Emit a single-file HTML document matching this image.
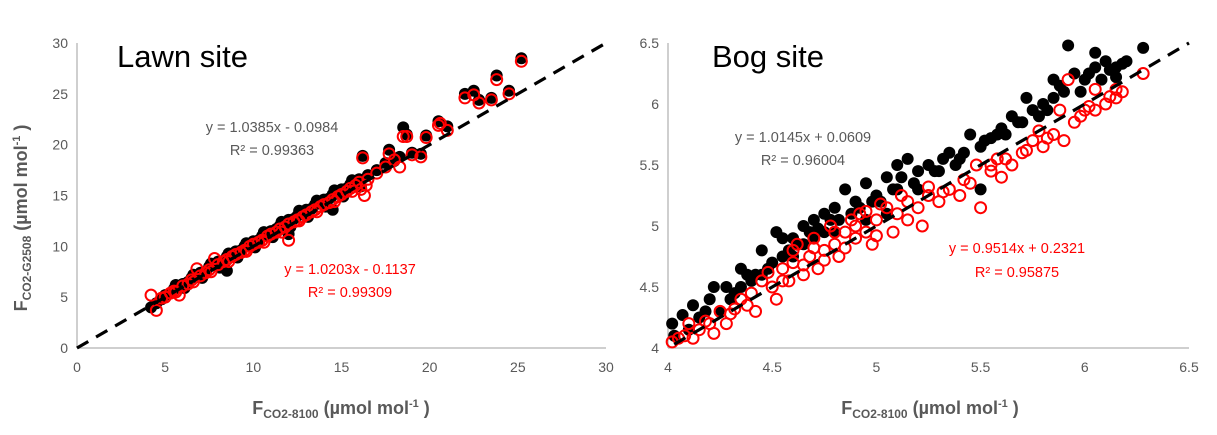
<!DOCTYPE html>
<html><head><meta charset="utf-8"><style>
body{margin:0;background:#fff;}
svg{display:block;font-family:"Liberation Sans",sans-serif;}
</style></head><body>
<svg id="c" width="1217" height="435" viewBox="0 0 1217 435"></svg>
<script>
// Lawn site data
const lawnBlackX=[4.2,4.5,4.8,5,5.3,5.5,5.8,6,6.3,6.5,6.8,7,7.3,7.5,7.8,8,8.3,8.5,8.8,9,9.3,9.5,9.8,10,10.3,10.5,10.8,11,11.3,11.5,11.8,12,12.3,12.5,12.8,13,13.3,13.5,13.8,14,14.3,14.5,14.8,15,15.3,15.5,15.8,16,16.2,16.5,17,17.5,17.7,18,18.3,18.5,18.7,19,19.5,19.8,20.5,21,22,22.5,22.8,23.5,23.8,24.5,25.2,8.5,12,14.5,5.6,6.6,7.6,8.6,9.6,10.6,11.6,12.6,13.6,14.6,15.6,6.1,7.1,8.1,9.1,10.1,11.1,12.1,13.1,14.1,15.1,16.1];
const lawnBlackY=[4.0,4.4,4.8,5.2,5.4,5.8,6.0,6.3,6.5,6.9,7.0,7.4,7.5,8.0,8.2,8.5,8.6,9.0,9.2,9.5,9.6,10.0,10.2,10.5,10.6,11.0,11.1,11.5,11.7,12.0,12.1,12.6,12.7,13.0,13.2,13.6,13.7,14.1,14.2,14.6,14.7,15.1,15.2,15.6,15.7,16.1,16.3,16.6,18.9,17.0,17.5,18.2,19.5,18.4,18.8,21.7,21.0,19.2,19.1,20.9,22.3,21.8,25.0,25.3,24.4,24.6,26.8,25.3,28.5,7.6,11.2,13.6,6.2,7.2,8.3,9.3,10.3,11.4,12.4,13.5,14.5,15.5,16.5,5.9,6.9,7.9,8.9,9.9,10.9,11.9,12.9,13.9,14.9,15.9];
const lawnRedX=[4.2,4.5,4.8,5,5.3,5.5,5.8,6,6.3,6.5,6.8,7,7.3,7.5,7.8,8,8.3,8.5,8.8,9,9.3,9.5,9.8,10,10.3,10.5,10.8,11,11.3,11.5,11.8,12,12.3,12.5,12.8,13,13.3,13.5,13.8,14,14.3,14.5,14.8,15,15.3,15.5,15.8,16,16.2,16.3,16.5,17,17.5,17.7,18,18.3,18.5,18.7,19,19.5,19.8,20.5,20.6,21,22,22.5,22.8,23.5,23.8,24.5,25.2,12,5.6,6.6,7.6,8.6,9.6,10.6,11.6,12.6,13.6,14.6,15.6,16.1,16.4];
const lawnRedY=[5.2,3.7,4.9,5.0,5.4,5.6,5.2,6.1,6.3,6.7,7.8,7.1,7.4,7.7,8.8,8.2,8.5,8.7,9.0,9.2,9.4,9.6,10.0,10.2,10.4,10.6,11.0,11.2,11.4,11.7,11.9,12.2,12.4,12.6,12.9,13.1,13.4,13.6,13.9,14.1,14.3,14.6,14.9,15.1,15.4,15.7,16.0,16.3,18.7,15.0,16.6,17.2,17.8,19.1,18.5,17.8,20.8,20.8,19.0,18.8,20.7,21.9,22.1,21.4,24.6,24.9,24.1,24.4,26.4,25.0,28.2,10.6,5.5,6.5,7.5,8.5,9.5,10.4,11.4,12.5,13.4,14.4,15.4,15.6,16.0];
// Bog site data
const bogBlackX=[4.02,4.03,4.07,4.1,4.12,4.15,4.2,4.22,4.25,4.28,4.3,4.35,4.35,4.38,4.4,4.45,4.45,4.5,4.52,4.55,4.55,4.6,4.6,4.65,4.65,4.7,4.7,4.75,4.75,4.8,4.8,4.85,4.88,4.9,4.95,4.95,5.0,5.05,5.05,5.1,5.1,5.15,5.2,5.2,5.25,5.3,5.35,5.4,5.45,5.5,5.5,5.55,5.6,5.65,5.7,5.72,5.75,5.8,5.85,5.85,5.9,5.92,5.95,6.0,6.05,6.05,6.1,6.15,6.18,6.2,6.28,4.18,4.32,4.42,4.48,4.58,4.62,4.68,4.72,4.78,4.82,4.92,4.98,5.02,5.08,5.12,5.18,5.28,5.32,5.38,5.42,5.52,5.58,5.62,5.68,5.78,5.82,5.88,5.98,6.02,6.12,6.15,6.08];
const bogBlackY=[4.2,4.1,4.27,4.15,4.35,4.25,4.4,4.5,4.3,4.5,4.4,4.65,4.5,4.6,4.55,4.8,4.6,4.7,4.95,4.9,4.75,4.9,4.75,5.0,4.85,5.05,4.9,5.1,4.95,5.15,4.95,5.3,5.1,5.2,5.05,5.35,5.25,5.4,5.1,5.5,5.3,5.55,5.45,5.3,5.5,5.45,5.6,5.55,5.75,5.65,5.3,5.72,5.8,5.9,5.85,6.05,5.95,6.0,6.05,6.2,6.1,6.48,6.25,6.2,6.42,6.3,6.35,6.3,6.33,6.35,6.46,4.3,4.45,4.6,4.65,4.8,4.85,4.95,4.98,5.05,5.05,5.15,5.2,5.2,5.3,5.4,5.35,5.45,5.55,5.5,5.6,5.7,5.75,5.75,5.85,5.9,5.95,6.15,6.1,6.25,6.28,6.22,6.2];
const bogRedX=[4.02,4.05,4.08,4.1,4.12,4.15,4.2,4.22,4.25,4.28,4.3,4.35,4.38,4.4,4.42,4.45,4.5,4.52,4.55,4.58,4.6,4.62,4.65,4.68,4.7,4.72,4.75,4.78,4.8,4.82,4.85,4.88,4.9,4.92,4.95,4.98,5.0,5.05,5.08,5.1,5.12,5.15,5.2,5.22,5.25,5.3,5.35,5.4,5.45,5.48,5.5,5.55,5.6,5.62,5.65,5.7,5.75,5.8,5.85,5.88,5.9,5.92,5.95,6.0,6.05,6.05,6.1,6.15,6.18,6.28,4.18,4.32,4.48,4.55,4.6,4.65,4.7,4.75,4.8,4.85,4.9,4.95,5.0,5.02,5.15,5.25,5.32,5.42,5.55,5.58,5.72,5.78,5.82,5.98,6.02,6.12,6.15];
const bogRedY=[4.05,4.08,4.1,4.2,4.08,4.15,4.2,4.12,4.3,4.2,4.28,4.4,4.35,4.45,4.3,4.55,4.5,4.4,4.65,4.55,4.7,4.85,4.6,4.75,4.9,4.65,4.8,5.0,4.85,4.75,4.95,5.05,4.9,5.1,4.95,4.85,5.05,5.15,4.95,5.1,5.25,5.05,5.15,5.0,5.25,5.2,5.3,5.25,5.35,5.5,5.15,5.45,5.4,5.55,5.5,5.6,5.7,5.65,5.75,5.95,5.7,6.2,5.85,5.95,5.95,6.12,6.0,6.05,6.1,6.25,4.22,4.32,4.62,4.55,4.8,4.68,4.82,4.72,4.95,4.82,5.0,5.12,4.92,5.18,5.2,5.32,5.28,5.38,5.5,5.55,5.62,5.78,5.72,5.9,5.98,6.06,6.12];
const lawnTicks=[0,5,10,15,20,25,30];
const bogTicks=[4,4.5,5,5.5,6,6.5];

const svg=document.getElementById('c');
const NS='http://www.w3.org/2000/svg';
function mk(tag,attrs,parent){const e=document.createElementNS(NS,tag);for(const k in attrs)e.setAttribute(k,attrs[k]);(parent||svg).appendChild(e);return e;}

function panel(o){
  const g=mk('g',{});
  
  
  const sx=v=>o.x0+(v-o.min)/(o.max-o.min)*(o.x1-o.x0);
  const sy=v=>o.y0-(v-o.min)/(o.max-o.min)*(o.y0-o.y1);
  const ya=mk('line',{x1:o.x0,y1:o.y0,x2:o.x0,y2:o.y1,stroke:'#bfbfbf','stroke-width':1.5},g);
  
  
  const xa=mk('line',{x1:o.x0,y1:o.y0,x2:o.x1,y2:o.y0,stroke:'#bfbfbf','stroke-width':1.5},g);
  
  
  o.ticks.forEach(t=>{
    const a=mk('text',{x:sx(t),y:o.y0+24,'text-anchor':'middle','font-size':14,fill:'#595959'},g);
    a.textContent=t;
    
    
    const b=mk('text',{x:o.x0-9,y:sy(t)+5,'text-anchor':'end','font-size':14,fill:'#595959'},g);
    b.textContent=t;
    
    
  });
  o.bx.forEach((v,i)=>{
    const c=mk('circle',{cx:sx(v),cy:sy(o.by[i]),r:6,fill:'#000'},g);
    
    
  });
  o.rx.forEach((v,i)=>{
    const c=mk('circle',{cx:sx(v),cy:sy(o.ry[i]),r:5.5,fill:'none',stroke:'#ff0000','stroke-width':2},g);
    
    
  });
  const d=mk('line',{x1:sx(o.lineStart),y1:sy(o.lineStart),x2:sx(o.max),y2:sy(o.max),stroke:'#000','stroke-width':3.2,'stroke-dasharray':'13,9'},g);
  
  
  return g;
}
panel({name:'lawn-panel',x0:77,x1:606,y0:348,y1:43,min:0,max:30,ticks:lawnTicks,bx:lawnBlackX,by:lawnBlackY,rx:lawnRedX,ry:lawnRedY,lineStart:0});
panel({name:'bog-panel',x0:668,x1:1189,y0:348,y1:43,min:4,max:6.5,ticks:bogTicks,bx:bogBlackX,by:bogBlackY,rx:bogRedX,ry:bogRedY,lineStart:4.03});
</script>
<svg width="1217" height="435" style="position:absolute;left:0;top:0">
<g font-family="Liberation Sans, sans-serif">
<text x="117" y="67" font-size="31" fill="#000">Lawn site</text>
<text x="712" y="67" font-size="31" fill="#000">Bog site</text>
<text x="272" y="132" font-size="14.5" fill="#595959" text-anchor="middle">y = 1.0385x - 0.0984</text>
<text x="272" y="155" font-size="14.5" fill="#595959" text-anchor="middle">R² = 0.99363</text>
<text x="350" y="274" font-size="14.5" fill="#ff0000" text-anchor="middle">y = 1.0203x - 0.1137</text>
<text x="350" y="297" font-size="14.5" fill="#ff0000" text-anchor="middle">R² = 0.99309</text>
<text x="803" y="142" font-size="14.5" fill="#595959" text-anchor="middle">y = 1.0145x + 0.0609</text>
<text x="803" y="165" font-size="14.5" fill="#595959" text-anchor="middle">R² = 0.96004</text>
<text x="1017" y="253" font-size="14.5" fill="#ff0000" text-anchor="middle">y = 0.9514x + 0.2321</text>
<text x="1017" y="277" font-size="14.5" fill="#ff0000" text-anchor="middle">R² = 0.95875</text>
<text x="341" y="414" font-size="18" font-weight="bold" fill="#595959" text-anchor="middle">F<tspan font-size="12" dy="4">CO2-8100</tspan><tspan dy="-4"> (µmol mol</tspan><tspan font-size="11" dy="-7">-1</tspan><tspan dy="7"> )</tspan></text>
<text x="930" y="414" font-size="18" font-weight="bold" fill="#595959" text-anchor="middle">F<tspan font-size="12" dy="4">CO2-8100</tspan><tspan dy="-4"> (µmol mol</tspan><tspan font-size="11" dy="-7">-1</tspan><tspan dy="7"> )</tspan></text>
<text transform="translate(27,218) rotate(-90)" font-size="18" font-weight="bold" fill="#595959" text-anchor="middle">F<tspan font-size="12" dy="4">CO2-G2508</tspan><tspan dy="-4"> (µmol mol</tspan><tspan font-size="11" dy="-7">-1</tspan><tspan dy="7"> )</tspan></text>
</g>
</svg>
</body></html>
